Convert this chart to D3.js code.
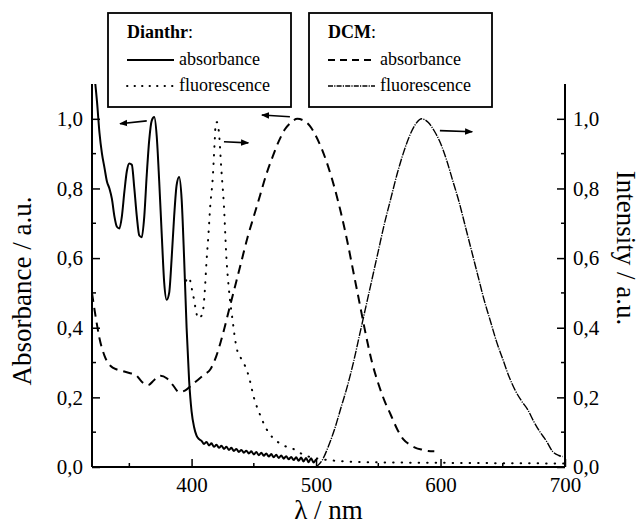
<!DOCTYPE html>
<html>
<head>
<meta charset="utf-8">
<script src="https://cdn.jsdelivr.net/npm/d3@7"></script>
<style>
  body { margin: 0; background: #fff; }
  svg text { font-family: "Liberation Serif", "DejaVu Serif", serif !important; fill: #000; }
</style>
</head>
<body>
<div id="chart"></div>
<script>
// spectra: [wavelength nm, value]
var dianthrAbs = [
  [320,1.16],[322,1.12],[324,1.05],[326,0.96],[328,0.90],[330,0.86],[332,0.82],[334,0.80],
  [336,0.77],[338,0.72],[340,0.69],[342,0.685],[344,0.72],[346,0.79],[348,0.85],[350,0.872],
  [352,0.868],[354,0.80],[356,0.72],[358,0.665],[360,0.66],[362,0.72],[364,0.84],[366,0.94],
  [368,0.995],[370,1.005],[372,0.95],[374,0.82],[376,0.67],[378,0.53],[380,0.48],[382,0.50],
  [384,0.60],[386,0.72],[388,0.81],[390,0.833],[392,0.77],[394,0.60],[396,0.40],[398,0.25],
  [400,0.16],[402,0.115],[404,0.09],[406,0.08],[408,0.075],[410,0.066],[412,0.072],[414,0.062],
  [416,0.068],[418,0.058],[420,0.064],[422,0.055],[424,0.061],[426,0.052],[428,0.058],[430,0.049],
  [432,0.055],[434,0.046],[436,0.052],[438,0.043],[440,0.049],[442,0.041],[444,0.047],[446,0.039],
  [448,0.045],[450,0.036],[452,0.043],[454,0.034],[456,0.041],[458,0.032],[460,0.039],[462,0.030],
  [464,0.037],[466,0.028],[468,0.035],[470,0.026],[472,0.033],[474,0.024],[476,0.031],[478,0.022],
  [480,0.029],[482,0.020],[484,0.028],[486,0.018],[488,0.027],[490,0.016],[492,0.026],[494,0.014],
  [496,0.025],[498,0.013],[500,0.022]
];

var dianthrFluo = [
  [395.5,0.535],[398,0.545],[400,0.515],[402,0.48],[404,0.44],[405,0.427],[407,0.43],[409,0.445],
  [410.5,0.50],[412,0.59],[413.5,0.665],[415,0.75],[417,0.83],[418.5,0.93],[419.5,0.99],[420.5,0.99],
  [422,0.96],[424,0.85],[426,0.75],[428,0.60],[430,0.51],[433,0.42],[436,0.345],[440,0.31],
  [443,0.29],[446,0.26],[450,0.20],[455,0.15],[460,0.11],[465,0.085],[470,0.07],[475,0.06],
  [480,0.055],[485,0.045],[490,0.035],[500,0.025],[510,0.02],[530,0.015],[560,0.013],[600,0.012],
  [650,0.011],[700,0.01]
];

var dcmAbs = [
  [320,0.50],[323,0.43],[326,0.37],[330,0.32],[335,0.29],[340,0.28],[345,0.275],[350,0.27],
  [355,0.265],[360,0.245],[365,0.235],[370,0.25],[375,0.262],[380,0.255],[385,0.235],[390,0.215],
  [395,0.22],[400,0.235],[405,0.25],[410,0.265],[415,0.28],[420,0.32],[425,0.38],[430,0.45],
  [435,0.52],[440,0.59],[445,0.66],[450,0.72],[455,0.78],[460,0.84],[465,0.89],[470,0.935],
  [475,0.97],[480,0.99],[485,1.0],[490,0.995],[495,0.98],[500,0.95],[505,0.91],[510,0.86],
  [515,0.80],[520,0.73],[525,0.65],[530,0.56],[535,0.47],[540,0.38],[545,0.30],[550,0.24],
  [555,0.19],[560,0.15],[565,0.11],[570,0.08],[575,0.065],[580,0.055],[585,0.05],[590,0.046],
  [595,0.045]
];

var dcmFluo = [
  [500,0.0],[505,0.02],[510,0.06],[515,0.11],[520,0.17],[525,0.23],[530,0.30],[535,0.38],
  [540,0.46],[545,0.54],[550,0.62],[555,0.70],[560,0.77],[565,0.84],[570,0.90],[575,0.95],
  [580,0.985],[585,1.0],[590,0.99],[595,0.965],[600,0.93],[605,0.88],[610,0.82],[615,0.76],
  [620,0.69],[625,0.62],[630,0.55],[635,0.48],[640,0.42],[645,0.36],[650,0.31],[655,0.26],
  [660,0.22],[665,0.19],[670,0.165],[675,0.13],[680,0.10],[685,0.075],[690,0.045],[695,0.033],
  [698,0.03]
];

// arrows telling which axis a curve belongs to: [from λ, from v, to λ, to v]
var arrows = [
  [364, 0.994, 342.5, 0.986],
  [426, 0.934, 445.5, 0.931],
  [479, 1.006, 456.5, 1.011],
  [599.5, 0.966, 625.5, 0.963]
];

var xMajor = [400, 500, 600, 700];
var xMinor = [350, 450, 550, 650];
var yMajor = [0, 0.2, 0.4, 0.6, 0.8, 1.0];
var yMinor = [0.1, 0.3, 0.5, 0.7, 0.9];

var width = 640, height = 526;
var plotL = 92, plotR = 565, plotT = 84, plotB = 467;
var serif = "'Liberation Serif', 'DejaVu Serif', serif";

var svg = d3.select("#chart").append("svg")
    .attr("width", width)
    .attr("height", height)
    .style("font-family", serif);

var x = d3.scaleLinear().domain([320, 700]).range([plotL, plotR]);
var y = d3.scaleLinear().domain([0, 1.1]).range([plotB, plotT]);

var fmt = function(d) { return d3.format(".1f")(d).replace(".", ","); };

svg.append("clipPath").attr("id", "plotclip")
  .append("rect")
    .attr("x", plotL).attr("y", plotT)
    .attr("width", plotR - plotL).attr("height", plotB - plotT);

var line = d3.line()
    .x(function(d) { return x(d[0]); })
    .y(function(d) { return y(d[1]); })
    .curve(d3.curveMonotoneX);

var plot = svg.append("g").attr("clip-path", "url(#plotclip)");

plot.append("path").datum(dianthrAbs)
    .attr("d", line).attr("fill", "none")
    .attr("stroke", "#000").attr("stroke-width", 2);

plot.append("path").datum(dianthrFluo)
    .attr("d", line).attr("fill", "none")
    .attr("stroke", "#000").attr("stroke-width", 2)
    .attr("stroke-linecap", "round")
    .attr("stroke-dasharray", "0.5,8");

plot.append("path").datum(dcmAbs)
    .attr("d", line).attr("fill", "none")
    .attr("stroke", "#000").attr("stroke-width", 2)
    .attr("stroke-dasharray", "9,6");

plot.append("path").datum(dcmFluo)
    .attr("d", line).attr("fill", "none")
    .attr("stroke", "#000").attr("stroke-width", 1.4)
    .attr("stroke-dasharray", "8,1.2,1.2,1.2");

// axes (ticks point inward)
var xAxis = d3.axisBottom(x).tickValues(xMajor).tickSize(-8).tickPadding(10).tickFormat(d3.format("d"));
var gx = svg.append("g").attr("transform", "translate(0," + plotB + ")").call(xAxis);
gx.append("g").selectAll("line").data(xMinor).enter().append("line")
    .attr("x1", function(d) { return x(d); }).attr("x2", function(d) { return x(d); })
    .attr("y1", 0).attr("y2", -4).attr("stroke", "#000").attr("stroke-width", 1.5);

var yAxisL = d3.axisLeft(y).tickValues(yMajor).tickSize(-8).tickPadding(9).tickFormat(fmt);
var gyl = svg.append("g").attr("transform", "translate(" + plotL + ",0)").call(yAxisL);
gyl.append("g").selectAll("line").data(yMinor).enter().append("line")
    .attr("y1", function(d) { return y(d); }).attr("y2", function(d) { return y(d); })
    .attr("x1", 0).attr("x2", 4).attr("stroke", "#000").attr("stroke-width", 1.5);

var yAxisR = d3.axisRight(y).tickValues(yMajor).tickSize(-8).tickPadding(8).tickFormat(fmt);
var gyr = svg.append("g").attr("transform", "translate(" + plotR + ",0)").call(yAxisR);
gyr.append("g").selectAll("line").data(yMinor).enter().append("line")
    .attr("y1", function(d) { return y(d); }).attr("y2", function(d) { return y(d); })
    .attr("x1", 0).attr("x2", -4).attr("stroke", "#000").attr("stroke-width", 1.5);

[gx, gyl, gyr].forEach(function(g) {
  g.attr("font-family", serif);
  g.selectAll(".domain").attr("stroke", "#000").attr("stroke-width", 2);
  g.selectAll(".tick line").attr("stroke", "#000").attr("stroke-width", 1.5);
  g.selectAll(".tick text").style("font-family", serif).style("font-size", "21px").attr("fill", "#000");
});
// plain axis lines without the end stubs
gx.select(".domain").attr("d", "M" + plotL + ",0H" + plotR);
gyl.select(".domain").attr("d", "M0," + plotT + "V" + plotB);
gyr.select(".domain").attr("d", "M0," + plotT + "V" + plotB);

// axis titles
svg.append("text")
    .attr("x", (plotL + plotR) / 2).attr("y", 519)
    .attr("text-anchor", "middle").style("font-size", "27px")
    .text("λ / nm");

svg.append("text")
    .attr("transform", "translate(25,291) rotate(-90)")
    .attr("text-anchor", "middle").attr("dominant-baseline", "middle")
    .style("font-size", "27px")
    .text("Absorbance / a.u.");

svg.append("text")
    .attr("transform", "translate(623,248) rotate(90)")
    .attr("text-anchor", "middle").attr("dominant-baseline", "middle")
    .style("font-size", "27px")
    .text("Intensity / a.u.");

// arrows
svg.append("defs").append("marker")
    .attr("id", "head")
    .attr("viewBox", "0 0 10 10")
    .attr("refX", 9).attr("refY", 5)
    .attr("markerWidth", 5).attr("markerHeight", 5)
    .attr("orient", "auto")
  .append("path")
    .attr("d", "M0,1L10,5L0,9z")
    .attr("fill", "#000");

svg.selectAll(".arrow").data(arrows).enter().append("line")
    .attr("class", "arrow")
    .attr("x1", function(d) { return x(d[0]); })
    .attr("y1", function(d) { return y(d[1]); })
    .attr("x2", function(d) { return x(d[2]); })
    .attr("y2", function(d) { return y(d[3]); })
    .attr("stroke", "#000").attr("stroke-width", 1.6)
    .attr("marker-end", "url(#head)");

// legend boxes
function legendBox(bx, title, entries) {
  var g = svg.append("g").attr("transform", "translate(" + bx + ",13)");
  g.append("rect")
      .attr("x", 0).attr("y", 0)
      .attr("width", 183).attr("height", 94)
      .attr("fill", "#fff").attr("stroke", "#000").attr("stroke-width", 1.8);
  var t = g.append("text").attr("x", 19).attr("y", 25).style("font-size", "18px");
  t.append("tspan").attr("font-weight", "bold").text(title);
  t.append("tspan").text(":");
  entries.forEach(function(e, i) {
    var ly = 47 + i * 26;
    g.append("line")
        .attr("x1", 19).attr("x2", 66)
        .attr("y1", ly).attr("y2", ly)
        .attr("stroke", "#000").attr("stroke-width", e.width)
        .attr("stroke-linecap", e.cap || "butt")
        .attr("stroke-dasharray", e.dash);
    g.append("text").attr("x", 71).attr("y", ly + 5).style("font-size", "18px").text(e.label);
  });
}

legendBox(108, "Dianthr", [
  {label: "absorbance", width: 1.8, dash: null},
  {label: "fluorescence", width: 1.8, dash: "0.5,7", cap: "round"}
]);
legendBox(309, "DCM", [
  {label: "absorbance", width: 2, dash: "7,5"},
  {label: "fluorescence", width: 1.4, dash: "5,1.2,1.2,1.2"}
]);
</script>
</body>
</html>
